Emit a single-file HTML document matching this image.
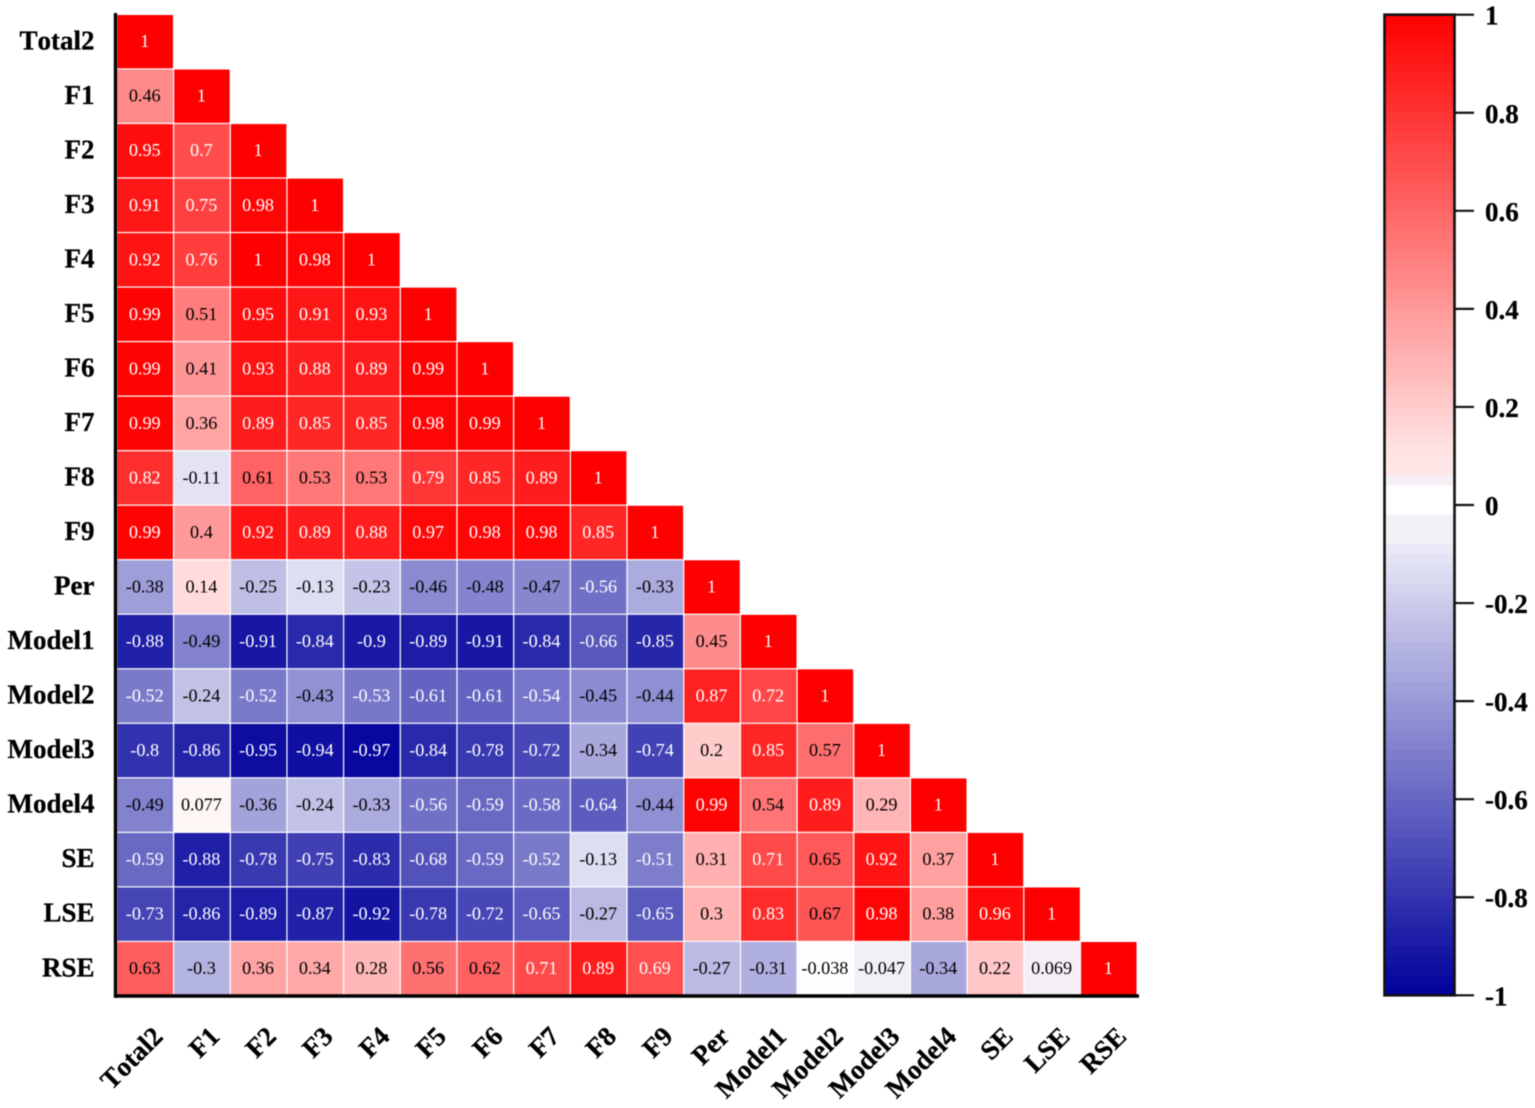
<!DOCTYPE html>
<html lang="en">
<head>
<meta charset="utf-8">
<title>Correlation heatmap</title>
<style>
html,body{margin:0;padding:0;background:#fff;width:1535px;height:1108px;overflow:hidden}
svg{display:block;filter:blur(0.45px)}
text{font-family:"Liberation Serif",serif;font-kerning:none}
</style>
</head>
<body>
<svg id="chart" width="1535" height="1108" viewBox="0 0 1535 1108" xmlns="http://www.w3.org/2000/svg"></svg>
<script>
const categories = ["Total2","F1","F2","F3","F4","F5","F6","F7","F8","F9","Per","Model1","Model2","Model3","Model4","SE","LSE","RSE"];
const rowTotal2 = [1];
const rowF1 = [0.46,1];
const rowF2 = [0.95,0.7,1];
const rowF3 = [0.91,0.75,0.98,1];
const rowF4 = [0.92,0.76,1,0.98,1];
const rowF5 = [0.99,0.51,0.95,0.91,0.93,1];
const rowF6 = [0.99,0.41,0.93,0.88,0.89,0.99,1];
const rowF7 = [0.99,0.36,0.89,0.85,0.85,0.98,0.99,1];
const rowF8 = [0.82,-0.11,0.61,0.53,0.53,0.79,0.85,0.89,1];
const rowF9 = [0.99,0.4,0.92,0.89,0.88,0.97,0.98,0.98,0.85,1];
const rowPer = [-0.38,0.14,-0.25,-0.13,-0.23,-0.46,-0.48,-0.47,-0.56,-0.33,1];
const rowModel1 = [-0.88,-0.49,-0.91,-0.84,-0.9,-0.89,-0.91,-0.84,-0.66,-0.85,0.45,1];
const rowModel2 = [-0.52,-0.24,-0.52,-0.43,-0.53,-0.61,-0.61,-0.54,-0.45,-0.44,0.87,0.72,1];
const rowModel3 = [-0.8,-0.86,-0.95,-0.94,-0.97,-0.84,-0.78,-0.72,-0.34,-0.74,0.2,0.85,0.57,1];
const rowModel4 = [-0.49,0.077,-0.36,-0.24,-0.33,-0.56,-0.59,-0.58,-0.64,-0.44,0.99,0.54,0.89,0.29,1];
const rowSE = [-0.59,-0.88,-0.78,-0.75,-0.83,-0.68,-0.59,-0.52,-0.13,-0.51,0.31,0.71,0.65,0.92,0.37,1];
const rowLSE = [-0.73,-0.86,-0.89,-0.87,-0.92,-0.78,-0.72,-0.65,-0.27,-0.65,0.3,0.83,0.67,0.98,0.38,0.96,1];
const rowRSE = [0.63,-0.3,0.36,0.34,0.28,0.56,0.62,0.71,0.89,0.69,-0.27,-0.31,-0.038,-0.047,-0.34,0.22,0.069,1];
const correlationRows = [rowTotal2,rowF1,rowF2,rowF3,rowF4,rowF5,rowF6,rowF7,rowF8,rowF9,rowPer,rowModel1,rowModel2,rowModel3,rowModel4,rowSE,rowLSE,rowRSE];
const colorbarTicks = [1,0.8,0.6,0.4,0.2,0,-0.2,-0.4,-0.6,-0.8,-1];

const NS = "http://www.w3.org/2000/svg";
const svg = document.getElementById("chart");
function make(tag, attrs, parent){
  const el = document.createElementNS(NS, tag);
  for (const k in attrs) el.setAttribute(k, attrs[k]);
  (parent || svg).appendChild(el);
  return el;
}
const plotLeft = 117.5, plotTop = 15, colStep = 56.68, rowStep = 54.53;
function xCol(i){ return plotLeft + i * colStep; }
function yRow(i){ return plotTop + i * rowStep; }
function colorFor(v){
  if (v > 0.04 && v < 0.072) return "rgb(246,239,245)";
  if (v >= 0.072 && v < 0.09) return "rgb(253,246,245)";
  if (v < 0 && v > -0.04) return "rgb(254,254,254)";
  if (v <= -0.04 && v > -0.08) return "rgb(243,239,246)";
  if (v >= 0) {
    const c = Math.round(255 * (1 - v));
    return "rgb(255," + c + "," + c + ")";
  }
  const c = Math.round(255 * (1 + v));
  const b = Math.round(255 + 100 * v);
  return "rgb(" + c + "," + c + "," + b + ")";
}
function textColorFor(v){ return (v >= 0.68 || v <= -0.5) ? "#fff" : "#000"; }

const cellsGroup = make("g", {});


correlationRows.forEach(function(row, r){
  row.forEach(function(v, c){
    const rect = make("rect", {x:xCol(c), y:yRow(r), width:colStep-1.2, height:rowStep-1.2, fill:colorFor(v)}, cellsGroup);
    
    
    const t = make("text", {x:xCol(c)+(colStep-1.2)/2-0.5, y:yRow(r)+(rowStep-1.2)/2+5.5, "text-anchor":"middle", "font-size":"18.2", fill:textColorFor(v)}, cellsGroup);
    
    
    t.textContent = String(v);
  });
});

const yAxis = make("line", {x1:115.5, y1:13, x2:115.5, y2:997.7, stroke:"#000", "stroke-width":3.4});


const xAxis = make("line", {x1:114, y1:996, x2:1139, y2:996, stroke:"#000", "stroke-width":3.4});



categories.forEach(function(name, i){
  const yl = make("text", {x:94.5, y:yRow(i)+(rowStep-1)/2+7.5, "text-anchor":"end", "font-size":"27", "font-weight":"bold", fill:"#000", stroke:"#000", "stroke-width":0.3});
  
  
  yl.textContent = name;
  const ax = xCol(i) + colStep/2 + 18.5, ay = 1038;
  const xl = make("text", {x:ax, y:ay, "text-anchor":"end", "font-size":"27", "font-weight":"bold", fill:"#000", stroke:"#000", "stroke-width":0.3, transform:"rotate(-45 " + ax + " " + ay + ")"});
  
  
  xl.textContent = name;
});

const barLeft = 1385, barRight = 1454.5;
function yBar(v){ return 505 - v * 490.3; }
const barGroup = make("g", {});


const bandStep = 0.02;
const bandCount = Math.round(2 / bandStep);
for (let i = 0; i < bandCount; i++) {
  const hi = 1 - i * bandStep, lo = hi - bandStep, mid = (hi + lo) / 2;
  let shown = mid;
  if (mid > -0.02 && mid < 0.04) shown = 0;
  else if (mid <= -0.02 && mid > -0.04) shown = -0.05;
  else if (mid >= 0.06 && mid < 0.09) shown = 0.095;
  const band = make("rect", {x:barLeft, y:yBar(hi), width:barRight-barLeft, height:yBar(lo)-yBar(hi)+0.5, fill:colorFor(shown)}, barGroup);
  
  
}
const barFrame = make("rect", {x:barLeft-0.5, y:yBar(1), width:barRight-barLeft+0.5, height:yBar(-1)-yBar(1), fill:"none", stroke:"#111", "stroke-width":2.6}, barGroup);


colorbarTicks.forEach(function(v){
  const tick = make("line", {x1:barRight, y1:yBar(v), x2:1474, y2:yBar(v), stroke:"#111", "stroke-width":2.2}, barGroup);
  
  
  const lab = make("text", {x:1485, y:yBar(v)+10, "font-size":"27", "font-weight":"bold", fill:"#000", stroke:"#000", "stroke-width":0.3}, barGroup);
  
  
  lab.textContent = String(v);
});
</script>
</body>
</html>
